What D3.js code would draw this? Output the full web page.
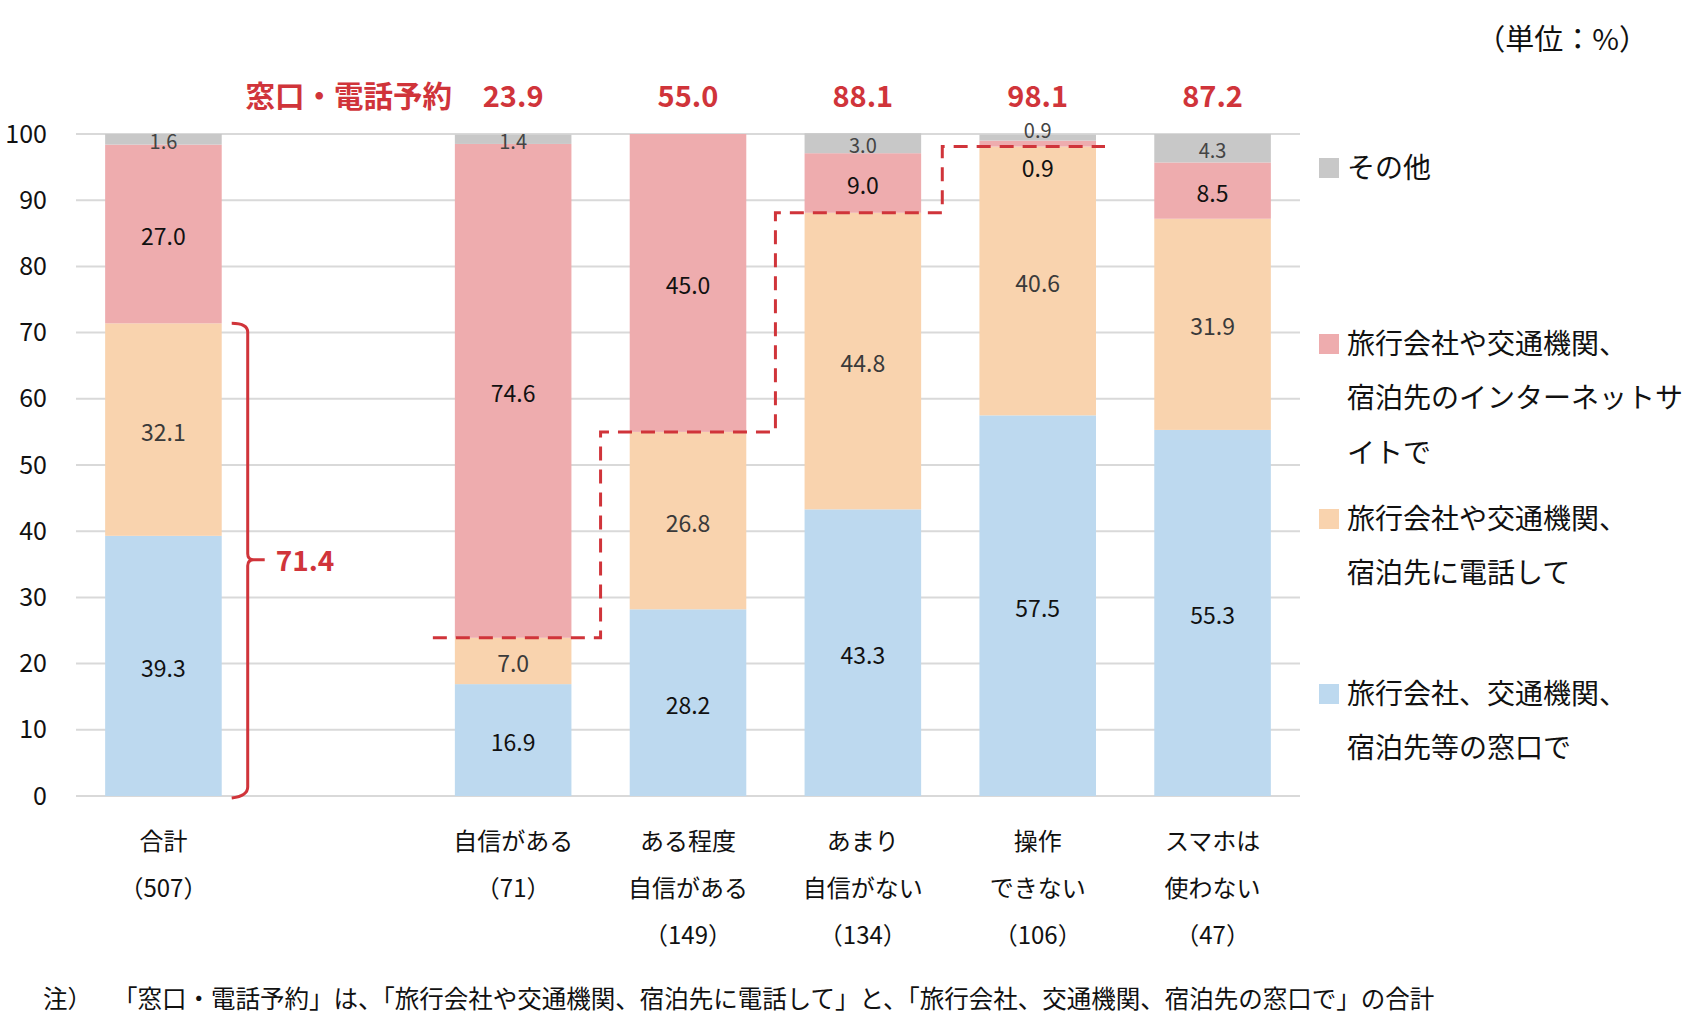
<!DOCTYPE html>
<html><head><meta charset="utf-8">
<script src="https://cdn.jsdelivr.net/npm/d3@7"></script>
<style>
html,body{margin:0;padding:0;background:#fff;}
svg{display:block;font-family:"Noto Sans CJK JP","Noto Sans",sans-serif;}
</style></head>
<body>
<svg id="chart" width="1693" height="1035"></svg>
<script>
// ---- data ----
const categories = ["合計","自信がある","ある程度自信がある","あまり自信がない","操作できない","スマホは使わない"];
const categoryLines = [["合計","（507）"],["自信がある","（71）"],["ある程度","自信がある","（149）"],["あまり","自信がない","（134）"],["操作","できない","（106）"],["スマホは","使わない","（47）"]];
const windowVals   = [39.3,16.9,28.2,43.3,57.5,55.3];
const phoneVals    = [32.1, 7.0,26.8,44.8,40.6,31.9];
const internetVals = [27.0,74.6,45.0, 9.0, 0.9, 8.5];
const otherVals    = [ 1.6, 1.4, 0.0, 3.0, 0.9, 4.3];
const reserveTotals = [71.4,23.9,55.0,88.1,98.1,87.2];
const seriesNames = ["旅行会社、交通機関、宿泊先等の窓口で","旅行会社や交通機関、宿泊先に電話して","旅行会社や交通機関、宿泊先のインターネットサイトで","その他"];
const legendLines = [["旅行会社、交通機関、","宿泊先等の窓口で"],["旅行会社や交通機関、","宿泊先に電話して"],["旅行会社や交通機関、","宿泊先のインターネットサ","イトで"],["その他"]];
const yTicks = [0,10,20,30,40,50,60,70,80,90,100];
const headerLabel = "窓口・電話予約";
const unitLabel = "（単位：%）";
const noteLabel = "注）";
const noteText = "「窓口・電話予約」は、「旅行会社や交通機関、宿泊先に電話して」と、「旅行会社、交通機関、宿泊先の窓口で」の合計";

// ---- styles ----
const colors = ["#bdd9ef","#f9d3ae","#eeacae","#c8c8c8"];
const red = "#d0343a";
const svg = d3.select("#chart");

const domain = [categories[0], "__gap__", ...categories.slice(1)];
const x = d3.scaleBand().domain(domain).range([76,1300]).paddingInner(1/3).paddingOuter(1/6);
const y = d3.scaleLinear().domain([0,100]).range([796,134]);
const bw = x.bandwidth();

// gridlines
svg.append("g").selectAll("line").data(yTicks).join("line")
  .attr("x1",76).attr("x2",1300).attr("y1",d=>y(d)).attr("y2",d=>y(d))
  .attr("stroke","#d9d9d9").attr("stroke-width",2);

// y axis
const yAxis = d3.axisLeft(y).tickValues(yTicks).tickSize(0).tickPadding(0);
const yg = svg.append("g").attr("transform","translate(47,0)").call(yAxis);
yg.select(".domain").remove();
yg.selectAll("text").attr("font-size",25).attr("fill","#111").attr("font-family","'Noto Sans CJK JP',sans-serif");

// stacked data
const rows = categories.map((c,i)=>({cat:c, s0:windowVals[i], s1:phoneVals[i], s2:internetVals[i], s3:otherVals[i]}));
const stack = d3.stack().keys(["s0","s1","s2","s3"]);
const stacked = stack(rows);

svg.append("g").selectAll("g").data(stacked).join("g").attr("fill",(d,i)=>colors[i])
  .selectAll("rect").data(d=>d.filter(p=>p[1]-p[0]>0)).join("rect")
  .attr("x",d=>x(d.data.cat)).attr("width",bw)
  .attr("y",d=>y(d[1])).attr("height",d=>y(d[0])-y(d[1]));

// value labels
const labG = svg.append("g").attr("text-anchor","middle");
stacked.forEach((layer,si)=>{
  layer.forEach(d=>{
    const v = d[1]-d[0];
    if (v<=0) return;
    let yy = y((d[0]+d[1])/2) + 3;
    const small = si===3;
    if (v<1.2 && si===3) yy = y(100)-3;
    else if (v<1.2 && si===2) yy = y(d[0]) + 22;
    labG.append("text")
      .attr("x",x(d.data.cat)+bw/2).attr("y",yy).attr("dy","0.35em")
      .attr("font-size", small?20:23)
      .attr("fill", si===3?"#444": (si===1?"#3a3a3a":"#111"))
      .text(v.toFixed(1));
  });
});

// dashed step line
const stepIdx = [1,2,3,4];
const pts = [];
stepIdx.forEach((ci,k)=>{
  const c = categories[ci];
  const yy = y(reserveTotals[ci]);
  let xs, xe;
  if (k===0) xs = x(c)-22; else {
    const prev = categories[stepIdx[k-1]];
    xs = (x(prev)+bw + x(c))/2 - (k===3?8:0);
  }
  if (k===stepIdx.length-1) xe = x(c)+bw+9; else {
    const next = categories[stepIdx[k+1]];
    xe = (x(c)+bw + x(next))/2 - (k===2?8:0);
  }
  pts.push([xs,yy]);
  pts.push([xe,yy]);
});
svg.append("path").attr("d", d3.line()(pts)).attr("fill","none")
  .attr("stroke",red).attr("stroke-width",3).attr("stroke-dasharray","14,9");

// brace on 合計
const bx = x(categories[0])+bw+26, yTop = y(reserveTotals[0]), yBot = y(0), yMid = (yTop+yBot)/2;
const bl = x(categories[0])+bw+10;
svg.append("path")
  .attr("d",`M${bl},${yTop} Q${bx},${yTop} ${bx},${yTop+9} L${bx},${yMid-6} Q${bx},${yMid} ${bx+6},${yMid} L${bx+17},${yMid} M${bx+6},${yMid} Q${bx},${yMid} ${bx},${yMid+6} L${bx},${yBot-9} Q${bx},${yBot} ${bl},${yBot+2}`)
  .attr("fill","none").attr("stroke",red).attr("stroke-width",3);
svg.append("text").attr("x",bx+28).attr("y",yMid+2).attr("dy","0.35em")
  .attr("font-size",28).attr("font-weight","bold").attr("fill",red)
  .text(reserveTotals[0].toFixed(1));

// header totals
svg.append("text").attr("x",452).attr("y",97).attr("dy","0.35em").attr("text-anchor","end")
  .attr("font-size",29.5).attr("font-weight","bold").attr("fill",red).text(headerLabel);
svg.append("g").selectAll("text").data(categories.slice(1)).join("text")
  .attr("x",d=>x(d)+bw/2).attr("y",97).attr("dy","0.35em").attr("text-anchor","middle")
  .attr("font-size",29).attr("font-weight","bold").attr("fill",red)
  .text((d,i)=>reserveTotals[i+1].toFixed(1));

// category labels
const catG = svg.append("g").attr("text-anchor","middle");
categories.forEach((c,i)=>{
  categoryLines[i].forEach((ln,j)=>{
    catG.append("text").attr("x",x(c)+bw/2).attr("y",842+j*47).attr("dy","0.35em")
      .attr("font-size",24).attr("fill","#111").text(ln);
  });
});

// legend
const legendY = [694,519,344,168];
const lg = svg.append("g");
[3,2,1,0].forEach(si=>{
  const y0 = legendY[si];
  lg.append("rect").attr("x",1319).attr("y",y0-10).attr("width",20).attr("height",20).attr("fill",colors[si]);
  legendLines[si].forEach((ln,j)=>{
    lg.append("text").attr("x",1347).attr("y",y0+j*54.5).attr("dy","0.35em")
      .attr("font-size",28).attr("fill","#111").text(ln);
  });
});

// unit
svg.append("text").attr("x",1648).attr("y",40).attr("dy","0.35em").attr("text-anchor","end")
  .attr("font-size",29).attr("fill","#111").text(unitLabel);

// note
svg.append("text").attr("x",43).attr("y",999).attr("dy","0.35em").attr("font-size",24.5).attr("fill","#111").text(noteLabel);
svg.append("text").attr("x",113).attr("y",999).attr("dy","0.35em").attr("font-size",24.5).attr("fill","#111").text(noteText);
</script>
</body></html>
